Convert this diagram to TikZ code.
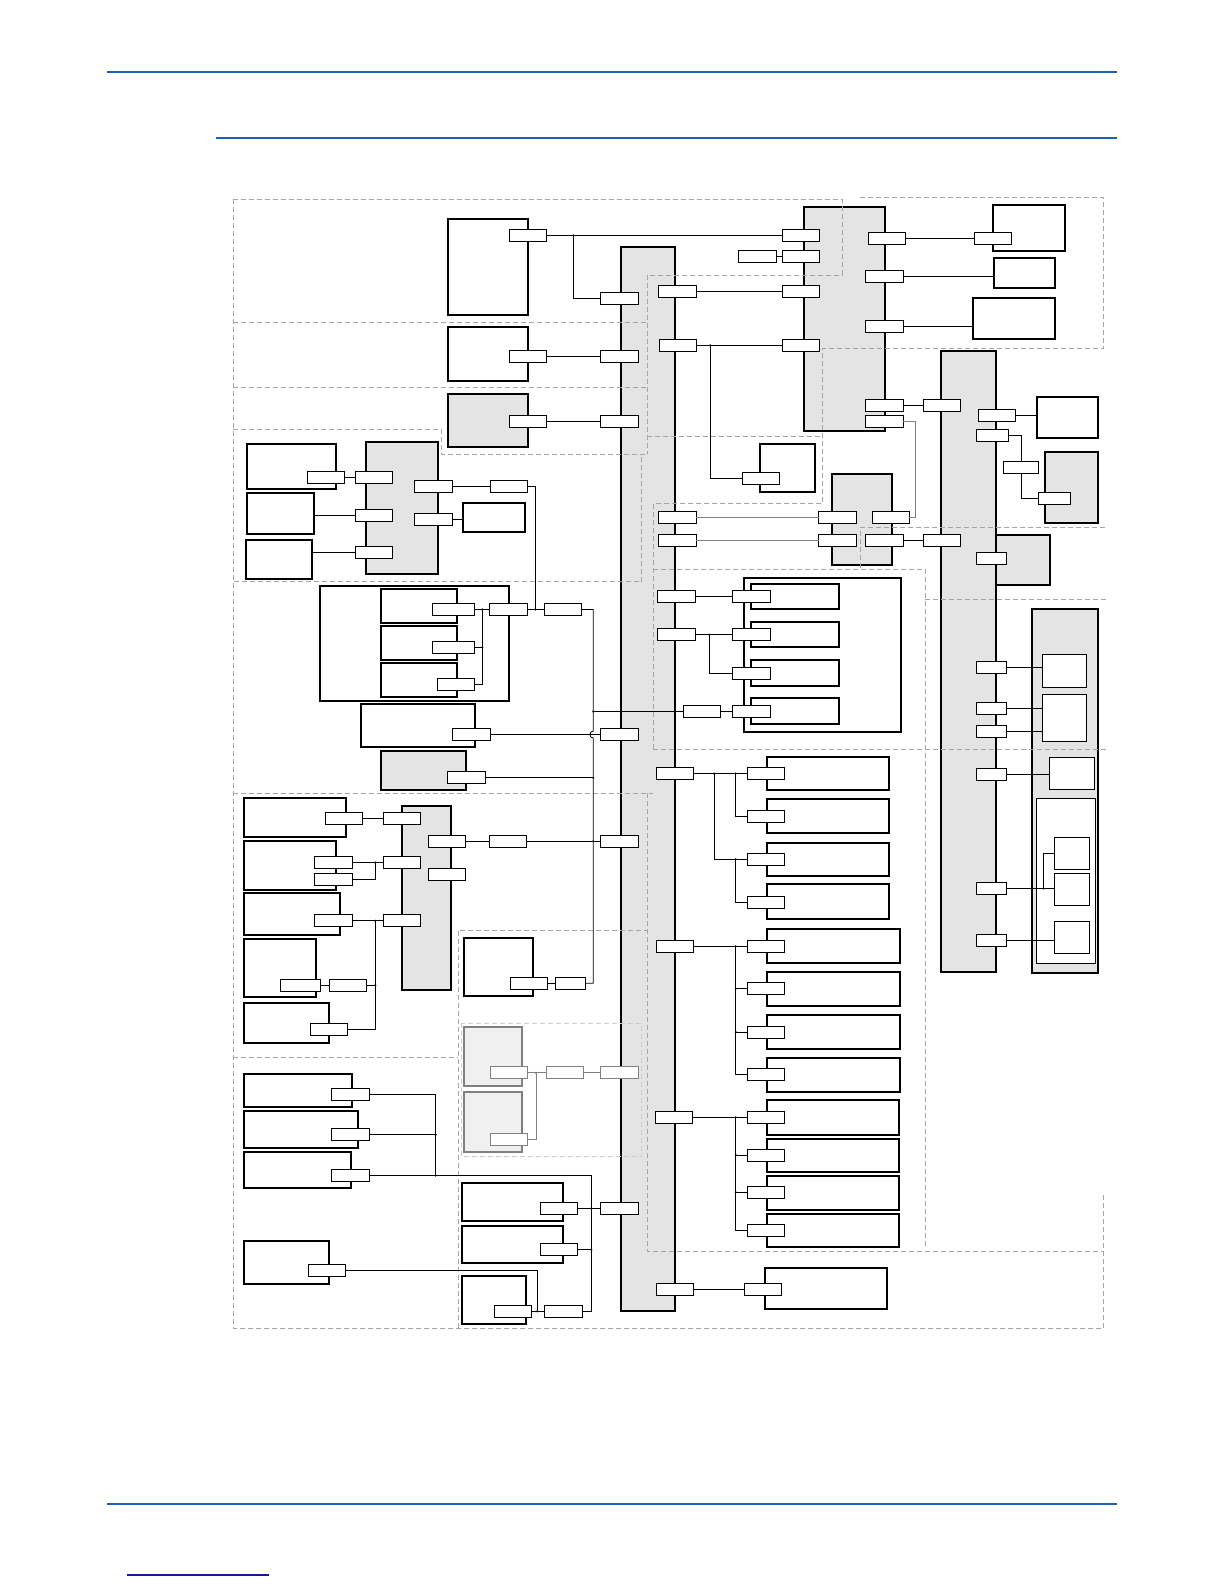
\documentclass[tikz,border=0pt]{standalone}
\usepackage{xcolor}
\definecolor{hdr}{RGB}{30,96,184}
\definecolor{navy}{RGB}{25,25,150}
\definecolor{busg}{RGB}{228,228,228}
\definecolor{lgf}{RGB}{240,240,240}
\definecolor{dsh}{RGB}{165,165,165}
\definecolor{ldsh}{RGB}{205,205,205}
\tikzset{
 box/.style={draw, line width=2.2pt, fill=white, inner sep=0pt, outer sep=0pt},
 gbox/.style={box, fill=busg},
 lbox/.style={draw=gray, line width=2pt, fill=lgf, inner sep=0pt, outer sep=0pt},
 thinbox/.style={draw, line width=1pt, fill=white, inner sep=0pt, outer sep=0pt},
 port/.style={draw, line width=0.8pt, fill=white, minimum height=12pt, inner sep=0pt, outer sep=0pt},
 gport/.style={port, draw=gray},
 wire/.style={line width=0.8pt},
 gwire/.style={line width=0.8pt, draw=gray},
 region/.style={draw=dsh, line width=0.8pt, dash pattern=on 5pt off 3pt},
 lregion/.style={draw=ldsh, line width=0.8pt, dash pattern=on 5pt off 3pt},
 hline/.style={draw=hdr, line width=2.2pt}
}
\newcommand{\bx}[6]{\node[#2, minimum width={#5-#3}, minimum height={#6-#4}] (#1) at ({(#3+#5)/2},{(#4+#6)/2}) {};}
\newcommand{\prt}[4]{\node[port, minimum width={#4}] (#1) at (#2,#3) {};}
\newcommand{\gprt}[4]{\node[gport, minimum width={#4}] (#1) at (#2,#3) {};}
\newcommand{\jd}[1]{\fill (#1) circle (1.2pt);}
\begin{document}
\begin{tikzpicture}[x=1pt,y=-1pt]
\useasboundingbox (0,0) rectangle (1224,1584);
% header / footer rules
\coordinate (h1a) at (107,71.7); \coordinate (h1b) at (1117,71.7);
\coordinate (h2a) at (216,137.7); \coordinate (h2b) at (1117,137.7);
\coordinate (h3a) at (107,1503.7); \coordinate (h3b) at (1117,1503.7);
\coordinate (h4a) at (127,1575); \coordinate (h4b) at (269,1575);
\draw[hline] (h1a) -- (h1b);
\draw[hline] (h2a) -- (h2b);
\draw[hline] (h3a) -- (h3b);
\draw[draw=navy, line width=1.2pt] (h4a) -- (h4b);
% main bus
\bx{bus}{gbox}{620.7}{246.7}{675}{1310.7}
% left column boxes
\bx{A}{box}{447.7}{218.7}{528.3}{315}
\bx{B}{box}{447.7}{327.3}{528.3}{381}
\bx{C3}{gbox}{447.7}{393.7}{528.3}{447}
\bx{S1}{gbox}{365.7}{441.7}{438}{574}
\bx{L1}{box}{246.7}{443.7}{336}{489}
\bx{L2}{box}{246.7}{492.7}{314}{534}
\bx{L3}{box}{245.7}{539.7}{312}{579}
\bx{L4}{box}{462.7}{502.7}{525.3}{532}
\bx{C}{box}{319.7}{585.7}{509}{701}
\bx{c1}{box}{380.7}{588.7}{457}{622.7}
\bx{c2}{box}{380.7}{625.7}{457}{660}
\bx{c3}{box}{380.7}{662.7}{457}{697}
\bx{D}{box}{360.7}{703.7}{475.3}{746.7}
\bx{E}{gbox}{380.7}{750.7}{466}{790}
\bx{S2}{gbox}{401.7}{805.7}{451}{990}
\bx{M1}{box}{243.7}{797.7}{346}{837}
\bx{M2}{box}{243.7}{841}{336}{890}
\bx{M3}{box}{243.7}{893.3}{340}{935}
\bx{M4}{box}{243.7}{939.3}{316}{997}
\bx{M5}{box}{243.7}{1002.7}{329.3}{1043}
\bx{F}{box}{463.7}{937.7}{533.3}{996}
\bx{G1}{lbox}{463.7}{1026.7}{522.3}{1086}
\bx{G2}{lbox}{463.7}{1092.3}{522.3}{1151.7}
\bx{N1}{box}{243.7}{1073.7}{352.3}{1107}
\bx{N2}{box}{243.7}{1110.7}{358}{1148}
\bx{N3}{box}{243.7}{1152}{351}{1187.7}
\bx{N4}{box}{243.7}{1240.7}{329.3}{1284}
\bx{O1}{box}{461.7}{1182.7}{563.3}{1221}
\bx{O2}{box}{461.7}{1225.7}{563.3}{1263}
\bx{O3}{box}{461.7}{1275.7}{526}{1324}
% right side boxes
\bx{T}{gbox}{803.7}{206.7}{885.3}{430.7}
\bx{U1}{box}{992.7}{204.7}{1065}{251}
\bx{U2}{box}{993.7}{257.7}{1055}{288}
\bx{U3}{box}{972.7}{297.7}{1055}{339}
\bx{Q}{box}{759.7}{443.7}{815}{492}
\bx{M}{gbox}{831.7}{473.7}{892}{565}
\bx{R}{gbox}{940.7}{350.7}{996}{971.7}
\bx{V1}{box}{1036.7}{396.7}{1098}{438.3}
\bx{V2}{gbox}{1044.7}{451.7}{1098}{522.7}
\bx{V3}{gbox}{996}{534.7}{1049.7}{585}
\bx{G}{gbox}{1031.7}{608.7}{1098}{972.7}
\bx{g1}{thinbox}{1042.3}{654.3}{1086.3}{687.3}
\bx{g2}{thinbox}{1042.3}{694.3}{1086.3}{741.3}
\bx{g3}{thinbox}{1049.3}{757.3}{1094.3}{789.3}
\bx{W}{thinbox}{1036.3}{798.3}{1095.3}{963.3}
\bx{w1}{thinbox}{1054.3}{837.3}{1089.3}{869.3}
\bx{w2}{thinbox}{1054.3}{873.3}{1089.3}{905.3}
\bx{w3}{thinbox}{1054.3}{921.3}{1089.3}{953.3}
\bx{K}{box}{743.7}{577.7}{901}{732}
\bx{k1}{box}{750.7}{583.7}{839}{609}
\bx{k2}{box}{750.7}{622.3}{839}{647.3}
\bx{k3}{box}{750.7}{660.3}{839}{686}
\bx{k4}{box}{750.7}{698.3}{839}{724}
\bx{ga1}{box}{766.7}{756.7}{889}{790}
\bx{ga2}{box}{766.7}{799.3}{889}{832.7}
\bx{ga3}{box}{766.7}{842.7}{889}{875.7}
\bx{ga4}{box}{766.7}{884.3}{889}{919}
\bx{gb1}{box}{766.7}{929.3}{900}{962.7}
\bx{gb2}{box}{766.7}{971.7}{900}{1005.7}
\bx{gb3}{box}{766.7}{1014.7}{900}{1049}
\bx{gb4}{box}{766.7}{1057.7}{900}{1092}
\bx{ge1}{box}{766.7}{1100.3}{899}{1135}
\bx{ge2}{box}{766.7}{1138.7}{899}{1172.3}
\bx{ge3}{box}{766.7}{1175.7}{899}{1210}
\bx{ge4}{box}{766.7}{1213.7}{899}{1247}
\bx{gf}{box}{764.7}{1267.7}{887}{1309.3}
% dashed regions (drawn over the blocks, as in the reference)
\draw[region] (233.3,199)--(842,199)--(842,275)--(647.3,275);
\draw[region] (233.3,199)--(233.3,1328.3)--(1103.3,1328.3)--(1103.3,1193.3);
\draw[region] (233.3,322.3)--(647.3,322.3);
\draw[region] (233.3,387.3)--(647.3,387.3);
\draw[region] (233.3,429.3)--(441.7,429.3)--(441.7,454.3)--(647.3,454.3);
\draw[region] (647.3,275)--(647.3,454.3);
\draw[region] (641.7,456.7)--(641.7,581.7)--(233.3,581.7);
\draw[region] (233.3,793.3)--(652.7,793.3);
\draw[region] (647.3,793.3)--(647.3,1251.7)--(1103.3,1251.7);
\draw[region] (458.3,1328.3)--(458.3,930)--(647.3,930);
\draw[region] (233.3,1057.7)--(458.3,1057.7);
\draw[lregion] (461,1023.3) rectangle (641.7,1156.7);
\draw[region] (860,197)--(1103.3,197)--(1103.3,348.3)--(822.7,348.3)--(822.7,503.3)--(653.3,503.3)--(653.3,749.3);
\draw[region] (647.3,436.7)--(822.7,436.7);
\draw[region] (652.7,569.3)--(925,569.3)--(925,1248);
\draw[region] (652.7,749.3)--(1106.7,749.3);
\draw[region] (925,599.3)--(1106.7,599.3);
\draw[region] (860.7,568.3)--(860.7,527.3)--(1106.7,527.3);
% ports, left half
\prt{pA}{528}{235.5}{37}
\prt{tl1}{800.8}{235.5}{37}
\prt{tl2}{800.8}{256.3}{37}
\prt{tx}{757.3}{256.3}{38}
\prt{tl3}{800.8}{291.3}{37}
\prt{tl4}{800.8}{345.3}{37}
\prt{bl1}{619.5}{298.3}{38}
\prt{pB}{528}{356.3}{37}
\prt{bl2}{619.5}{356.3}{38}
\prt{pC}{528}{421.8}{37}
\prt{bl3}{619.5}{421.8}{38}
\prt{br1}{677}{291.3}{38}
\prt{br2}{678}{345.3}{37}
\prt{pq}{760.8}{478.8}{37}
\prt{pl1}{325.8}{477.8}{37}
\prt{s1a}{373.8}{477.8}{37}
\prt{s1b}{373.8}{515.3}{37}
\prt{s1c}{373.8}{552.3}{37}
\prt{s1d}{433.3}{486.3}{38}
\prt{s1e}{433.3}{519.8}{38}
\prt{q1}{508.8}{486.3}{37}
\prt{pc1}{453.3}{609.5}{42}
\prt{pc2}{453.3}{647.3}{42}
\prt{pc3}{455.8}{684.3}{37}
\prt{pc4}{508.3}{609.5}{38}
\prt{pc5}{562.8}{609.5}{37}
\prt{pd}{471.3}{734.5}{38}
\prt{bl4}{619.5}{734.5}{38}
\prt{pe}{466.3}{777.8}{38}
\prt{lanx}{701.8}{711.5}{37}
\prt{pm1}{343.8}{818.3}{37}
\prt{s2a}{401.8}{818.3}{37}
\prt{pm2a}{333.3}{862.5}{38}
\prt{pm2b}{333.3}{879.3}{38}
\prt{s2b}{401.8}{862.5}{37}
\prt{pm3}{333.3}{920.8}{38}
\prt{s2c}{401.8}{920.8}{37}
\prt{pm4a}{300.3}{985.3}{40}
\prt{pm4b}{347.8}{985.3}{37}
\prt{pm5}{328.8}{1029.3}{37}
\prt{s2d}{446.8}{841.3}{37}
\prt{s2e}{446.8}{874.3}{37}
\prt{q2}{507.8}{841.3}{37}
\prt{bl5}{619.5}{841.3}{38}
\prt{pf}{528.8}{983.3}{37}
\prt{pf2}{570.3}{983.3}{30}
\gprt{pg1}{508.8}{1072.8}{37}
\gprt{pg2}{508.8}{1139.5}{37}
\gprt{pg3}{564.8}{1072.8}{37}
\gprt{bl6}{619.5}{1072.8}{38}
\prt{pn1}{350.3}{1094.5}{38}
\prt{pn2}{350.3}{1134.8}{38}
\prt{pn3}{350.3}{1175.5}{38}
\prt{po1}{558.8}{1208.3}{37}
\prt{bl7}{619.5}{1208.3}{38}
\prt{po2}{558.8}{1249.8}{37}
\prt{po3}{512.8}{1311.3}{37}
\prt{po4}{563.3}{1311.3}{38}
\prt{pn4}{326.8}{1270.3}{37}
% ports, right half
\prt{tr1}{886.8}{238.8}{37}
\prt{pu1}{992.8}{238.8}{37}
\prt{tr2}{884.3}{276.3}{38}
\prt{tr3}{884.3}{326.8}{38}
\prt{tr4}{884.3}{405.3}{38}
\prt{tr5}{884.3}{421.3}{38}
\prt{rl1}{941.8}{405.3}{37}
\prt{br3}{677}{517}{38}
\prt{br4}{677}{540}{38}
\prt{ml1}{837.5}{517}{38}
\prt{ml2}{837.5}{540}{38}
\prt{mr1}{890.8}{517.3}{37}
\prt{mr2}{884.3}{540}{38}
\prt{rl2}{941.8}{540}{37}
\prt{rr1}{996.8}{415.3}{37}
\prt{rr2}{992.3}{435.3}{32}
\prt{pv}{1021}{467.5}{35}
\prt{pv2}{1054.5}{498.5}{32}
\prt{rr3}{991.3}{558.2}{30}
\prt{rr4}{991.3}{667.5}{30}
\prt{rr5}{991.3}{708}{30}
\prt{rr6}{991.3}{731.5}{30}
\prt{rr7}{991.3}{774.7}{30}
\prt{rr8}{991.3}{888.5}{30}
\prt{rr9}{991.3}{940.7}{30}
\prt{br5}{676.3}{596.3}{38}
\prt{br6}{676.3}{634.7}{38}
\prt{pk1}{751.3}{596.3}{38}
\prt{pk2}{751.3}{634.7}{38}
\prt{pk3}{751.3}{673.3}{38}
\prt{pk4}{751.3}{711.5}{38}
\prt{br7}{675}{773.5}{37}
\prt{a1}{765.8}{773.5}{37}
\prt{a2}{765.8}{816.3}{37}
\prt{a3}{765.8}{859.3}{37}
\prt{a4}{765.8}{902}{37}
\prt{br8}{675}{946.3}{37}
\prt{b1}{765.8}{946.3}{37}
\prt{b2}{765.8}{988.8}{37}
\prt{b3}{765.8}{1032}{37}
\prt{b4}{765.8}{1074.7}{37}
\prt{br9}{674}{1117.3}{37}
\prt{e1}{765.8}{1117.3}{37}
\prt{e2}{765.8}{1155}{37}
\prt{e3}{765.8}{1192.3}{37}
\prt{e4}{765.8}{1230}{37}
\prt{br10}{675}{1289.3}{37}
\prt{f1}{762.8}{1289.3}{37}
% junction coordinates
\coordinate (j1) at (573.3,235.5);
\coordinate (j2) at (710.3,345.3);
\coordinate (j3) at (535.3,609.5);
\coordinate (jc) at (482.3,609.5);
\coordinate (v1t) at (593.3,609.5);
\coordinate (jl) at (593.3,711.5);
\coordinate (hopa) at (593.3,731);
\coordinate (hopb) at (593.3,738);
\coordinate (je1) at (593.3,777.8);
\coordinate (jq2) at (593.3,841.3);
\coordinate (v1b) at (593.3,983.3);
\coordinate (jm2) at (375.3,862.5);
\coordinate (jm3) at (375.3,920.8);
\coordinate (jm4) at (375.3,985.3);
\coordinate (jg) at (536,1072.8);
\coordinate (jn1) at (435.7,1094.5);
\coordinate (jn2) at (435.7,1134.8);
\coordinate (jn3) at (435.7,1175.5);
\coordinate (v2t) at (591.3,1175.5);
\coordinate (jo1) at (591.3,1208.3);
\coordinate (jo2) at (591.3,1249.8);
\coordinate (v2b) at (591.3,1311.3);
\coordinate (jn4) at (537.3,1270.3);
\coordinate (jo3) at (537.3,1311.3);
\coordinate (jt5a) at (915.7,421.3);
\coordinate (jt5b) at (915.7,517.3);
\coordinate (jv1) at (1021,435.3);
\coordinate (jv2) at (1021,498.5);
\coordinate (jw) at (1043.3,888.5);
\coordinate (jk) at (709.3,634.7);
\coordinate (ja) at (714,773.5);
\coordinate (ja2) at (735.7,773.5);
\coordinate (ja3) at (735.7,859.3);
\coordinate (jb) at (735.7,946.3);
\coordinate (je) at (735.7,1117.3);
% wires, left half
\draw[wire] (pA.east) -- (tl1.west);
\draw[wire] (j1) |- (bl1.west);
\draw[wire] (tx.east) -- (tl2.west);
\draw[wire] (br1.east) -- (tl3.west);
\draw[wire] (br2.east) -- (tl4.west);
\draw[wire] (j2) |- (pq.west);
\draw[wire] (pB.east) -- (bl2.west);
\draw[wire] (pC.east) -- (bl3.west);
\draw[wire] (pl1.east) -- (s1a.west);
\draw[wire] (L2.east |- s1b.west) -- (s1b.west);
\draw[wire] (L3.east |- s1c.west) -- (s1c.west);
\draw[wire] (s1d.east) -- (q1.west);
\draw[wire] (q1.east) -| (j3);
\draw[wire] (s1e.east) -- (L4.west |- s1e.east);
\draw[wire] (pc1.east) -- (pc4.west);
\draw[wire] (jc) |- (pc3.east);
\draw[wire] (jc |- pc2.east) -- (pc2.east);
\draw[wire] (pc4.east) -- (pc5.west);
\draw[wire] (pc5.east) -- (v1t) -- (hopa) .. controls (588.8,731) and (588.8,738) .. (hopb) -- (v1b) -- (pf2.east);
\draw[wire] (pd.east) -- (bl4.west);
\draw[wire] (jl) -- (lanx.west);
\draw[wire] (pe.east) -- (je1);
\draw[wire] (pf.east) -- (pf2.west);
\draw[wire] (pm1.east) -- (s2a.west);
\draw[wire] (pm2a.east) -- (s2b.west);
\draw[wire] (jm2) |- (pm2b.east);
\draw[wire] (pm3.east) -- (s2c.west);
\draw[wire] (jm3) |- (pm5.east);
\draw[wire] (pm4a.east) -- (pm4b.west);
\draw[wire] (pm4b.east) -- (jm4);
\draw[wire] (s2d.east) -- (q2.west);
\draw[wire] (q2.east) -- (bl5.west);
\draw[gwire] (pg1.east) -- (pg3.west);
\draw[gwire] (pg3.east) -- (bl6.west);
\draw[gwire] (jg) |- (pg2.east);
\draw[wire] (pn1.east) -- (jn1) -- (jn3);
\draw[wire] (pn2.east) -- (jn2);
\draw[wire] (pn3.east) -- (v2t) -- (v2b) -- (po4.east);
\draw[wire] (po1.east) -- (bl7.west);
\draw[wire] (po2.east) -- (jo2);
\draw[wire] (po3.east) -- (po4.west);
\draw[wire] (pn4.east) -- (jn4) -- (jo3);
% wires, right half
\draw[wire] (tr1.east) -- (pu1.west);
\draw[wire] (tr2.east) -- (U2.west |- tr2.east);
\draw[wire] (tr3.east) -- (U3.west |- tr3.east);
\draw[wire] (tr4.east) -- (rl1.west);
\draw[gwire] (tr5.east) -- (jt5a) -- (jt5b) -- (mr1.east);
\draw[gwire] (br3.east) -- (ml1.west);
\draw[gwire] (br4.east) -- (ml2.west);
\draw[wire] (mr2.east) -- (rl2.west);
\draw[wire] (rr1.east) -- (V1.west |- rr1.east);
\draw[wire] (rr2.east) -- (jv1) -- (pv.north);
\draw[wire] (pv.south) -- (jv2) -- (pv2.west);
\draw[wire] (rr4.east) -- (rr4.east -| g1.west);
\draw[wire] (rr5.east) -- (rr5.east -| g2.west);
\draw[wire] (rr6.east) -- (rr6.east -| g2.west);
\draw[wire] (rr7.east) -- (rr7.east -| g3.west);
\draw[wire] (rr8.east) -- (rr8.east -| w2.west);
\draw[wire] (jw) |- (w1.west);
\draw[wire] (rr9.east) -- (rr9.east -| w3.west);
\draw[wire] (br5.east) -- (pk1.west);
\draw[wire] (br6.east) -- (pk2.west);
\draw[wire] (jk) |- (pk3.west);
\draw[wire] (lanx.east) -- (pk4.west);
\draw[wire] (br7.east) -- (a1.west);
\draw[wire] (ja) |- (a3.west);
\draw[wire] (ja2) |- (a2.west);
\draw[wire] (ja3) |- (a4.west);
\draw[wire] (br8.east) -- (b1.west);
\draw[wire] (jb) |- (b4.west);
\draw[wire] (jb |- b2.west) -- (b2.west);
\draw[wire] (jb |- b3.west) -- (b3.west);
\draw[wire] (br9.east) -- (e1.west);
\draw[wire] (je) |- (e4.west);
\draw[wire] (je |- e2.west) -- (e2.west);
\draw[wire] (je |- e3.west) -- (e3.west);
\draw[wire] (br10.east) -- (f1.west);
% junction dots
\jd{j1}\jd{j2}\jd{j3}\jd{jc}\jd{jc |- pc2.east}\jd{jl}\jd{je1}\jd{jq2}
\jd{jm2}\jd{jm3}\jd{jm4}\jd{jn2}\jd{jn3}\jd{jo1}\jd{jo2}\jd{jo3}
\jd{jk}\jd{ja}\jd{ja2}\jd{ja3}\jd{jb}\jd{jb |- b2.west}\jd{jb |- b3.west}
\jd{je}\jd{je |- e2.west}\jd{je |- e3.west}\jd{jw}
\fill[gray] (jg) circle (1.2pt);
\end{tikzpicture}
\end{document}
